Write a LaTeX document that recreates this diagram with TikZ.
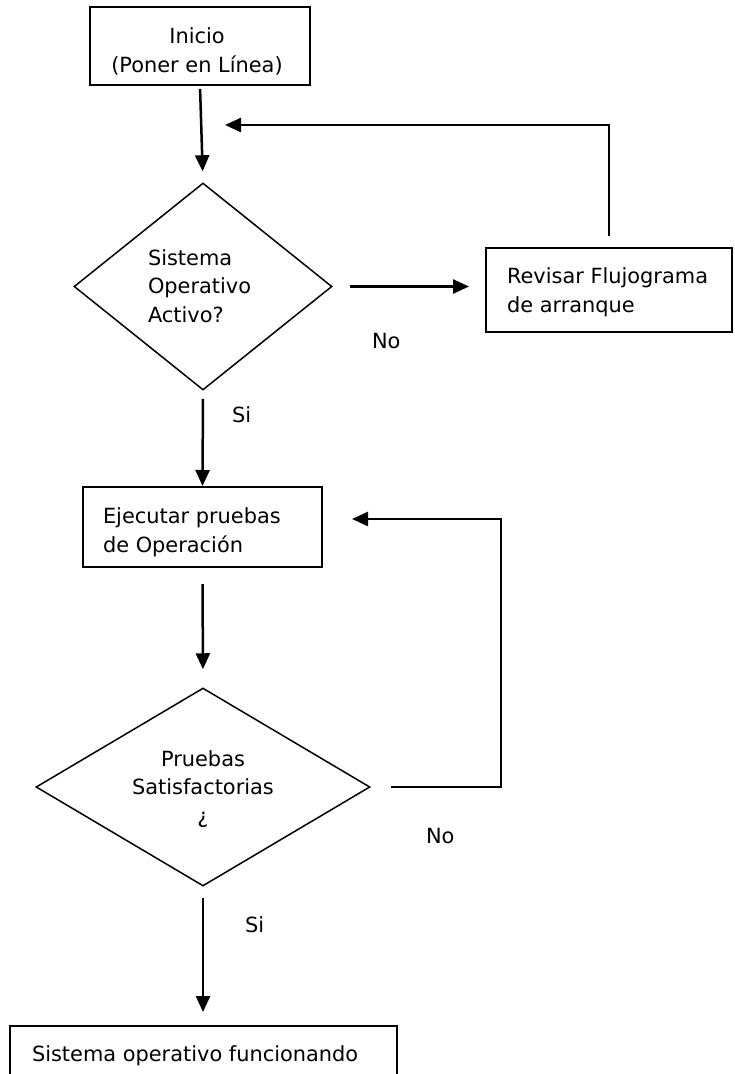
\documentclass[tikz,border=0pt]{standalone}
\usepackage{fontspec}
\setmainfont{DejaVu Sans}
\usetikzlibrary{shapes.geometric,arrows.meta}

\tikzset{
  every node/.style={font=\fontsize{20.9}{28.5}\selectfont},
  stepbox/.style={draw, rectangle, line width=2pt, inner sep=0pt},
  decision/.style={draw, diamond, line width=1.5pt, inner sep=0pt, aspect=1},
  txt/.style={inner sep=0pt, outer sep=0pt},
  arr/.style={line width=2.5pt, -{Triangle[length=16pt,width=14pt]}}
}

\begin{document}
\begin{tikzpicture}[x=1pt,y=-1pt]
  \useasboundingbox (0,0) rectangle (734,1074);
  \fill[white] (0,0) rectangle (734,1074);
  \clip (0,0) rectangle (734,1074);

  % process boxes
  \node[stepbox, minimum width=220pt, minimum height=78pt] (inicio) at (200,46) {};
  \node[stepbox, minimum width=246pt, minimum height=84pt] (revisar) at (609,290) {};
  \node[stepbox, minimum width=239pt, minimum height=80pt] (ejecutar) at (202.5,527) {};
  \node[stepbox, minimum width=387pt, minimum height=80pt] (final) at (203.5,1066) {};

  % decisions
  \node[decision, minimum width=258pt, minimum height=207pt] (d1) at (203,286.5) {};
  \node[decision, minimum width=334pt, minimum height=198pt] (d2) at (203,787) {};

  % texts (anchored on the baseline of their last line)
  \node[txt, align=center, anchor=base] (tinicio) at (197,72) {Inicio\\(Poner en Línea)};
  \node[txt, align=left, anchor=base west] (td1) at (148,322) {Sistema\\Operativo\\Activo?};
  \node[txt, align=left, anchor=base west] (trev) at (507,312) {Revisar Flujograma\\de arranque};
  \node[txt, align=left, anchor=base west] (tejec) at (103,552) {Ejecutar pruebas\\de Operación};
  \node[txt, align=center, anchor=base] (td2) at (203,823) {Pruebas\\Satisfactorias\\¿};
  \node[txt, anchor=base west] (tfin) at (32,1061) {Sistema operativo funcionando};

  % branch labels
  \node[txt, anchor=base west] (no1) at (372,348) {No};
  \node[txt, anchor=base west] (si1) at (232,422) {Si};
  \node[txt, anchor=base west] (no2) at (426,843) {No};
  \node[txt, anchor=base west] (si2) at (245,932) {Si};

  % loop-back targets
  \coordinate (back1) at (225,125);
  \coordinate (back2) at (352,519);

  % connectors
  \draw[arr, shorten <=3pt, shorten >=11pt] (inicio.south) -- (d1.north);
  \draw[arr, shorten <=8pt] (d1.south) -- (ejecutar.north);
  \draw[arr, shorten <=17pt, shorten >=16pt] (d1.east) -- (d1.east -| revisar.west);
  \draw[arr] ([yshift=11pt]revisar.north) |- (back1);
  \draw[arr, shorten <=16pt, shorten >=18pt] (ejecutar.south) -- (d2.north);
  \draw[arr] ([xshift=20pt]d2.east) -- ++(110,0) |- (back2);
  \draw[arr, shorten <=11pt, shorten >=13pt] (d2.south) -- (d2.south |- final.north);
\end{tikzpicture}
\end{document}
